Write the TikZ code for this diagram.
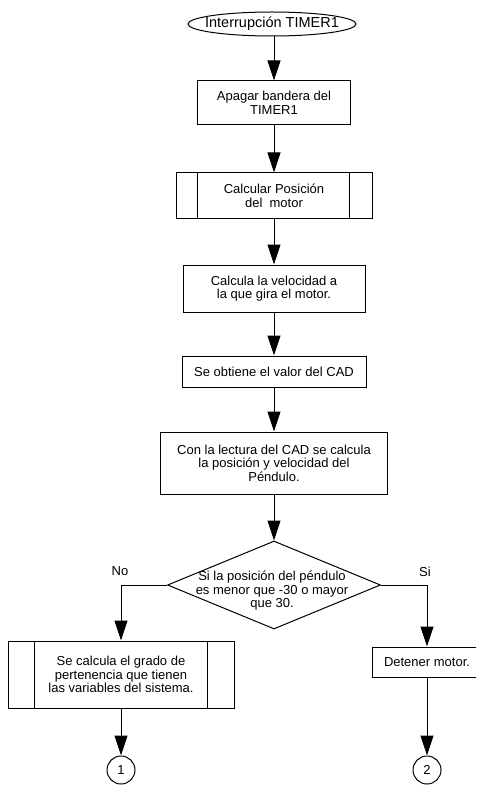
\documentclass[tikz,border=0pt]{standalone}
\usepackage{fontspec}
\setmainfont{Liberation Sans}
\usetikzlibrary{shapes.geometric,arrows.meta}
\begin{document}
\begin{tikzpicture}[x=1pt,y=-1pt,
  every node/.style={font=\fontsize{13}{13.5}\selectfont, align=center},
  box/.style={draw, rectangle, line width=1pt, inner sep=0pt},
  proc/.style={box},
  conn/.style={draw, circle, line width=1pt, minimum size=28pt, inner sep=0pt},
  flow/.style={line width=1pt, -{Triangle[width=13pt,length=20pt]}},
  lbl/.style={inner sep=0pt}
]
\useasboundingbox (0,0) rectangle (476,786);
\clip (0,0) rectangle (476,786);

% start
\node[draw, ellipse, line width=1pt, minimum width=168pt, minimum height=24pt, inner sep=0pt] (e) at (272,24) {};
\node[lbl, font=\fontsize{14.5}{15}\selectfont] (et) at (e.center) {Interrupción TIMER1};

\node[box, minimum width=153pt, minimum height=44pt] (b1) at (274,103) {Apagar bandera del\\TIMER1};

\node[proc, minimum width=196pt, minimum height=46pt] (b2) at (274,196) {Calcular Posición\\del\ \ motor};
\draw[line width=1pt] ([xshift=22pt]b2.north west) -- ([xshift=22pt]b2.south west);
\draw[line width=1pt] ([xshift=-23pt]b2.north east) -- ([xshift=-23pt]b2.south east);

\node[box, minimum width=182pt, minimum height=47pt] (b3) at (274,288.5) {Calcula la velocidad a\\ la que gira el motor.};

\node[box, minimum width=184pt, minimum height=31pt] (b4) at (274,371.5) {Se obtiene el valor del CAD};

\node[box, minimum width=227pt, minimum height=62pt] (b5) at (274,463) {Con la lectura del CAD se calcula\\la posición y velocidad del\\Péndulo.};

% decision
\node[draw, diamond, line width=1pt, minimum width=213pt, minimum height=88pt, inner sep=0pt] (d) at (274,585) {};
\node[lbl] (dt) at (272,591) {Si la posición del péndulo\\es menor que -30 o mayor\\que 30.};

\node[lbl] (no) at (120,571) {No};
\node[lbl] (si) at (425,572) {Si};

% left branch
\node[proc, minimum width=226pt, minimum height=67pt] (bl) at (121,674.5) {Se calcula el grado de\\pertenencia que tienen\\las variables del sistema.};
\draw[line width=1pt] ([xshift=27pt]bl.north west) -- ([xshift=27pt]bl.south west);
\draw[line width=1pt] ([xshift=-27pt]bl.north east) -- ([xshift=-27pt]bl.south east);

% right branch
\node[box, minimum width=110pt, minimum height=30pt] (br) at (427,662) {Detener motor.};

\node[conn] (c1) at (121,770) {1};
\node[conn] (c2) at (427,770) {2};

% connectors
\draw[flow] (e.south -| b1.north) -- (b1.north);
\draw[flow] (b1) -- (b2);
\draw[flow] (b2) -- (b3);
\draw[flow] (b3) -- (b4);
\draw[flow] (b4) -- (b5);
\draw[flow] (b5) -- (d);
\draw[flow] (d.west) -| (bl.north);
\draw[flow] (d.east) -| (br.north);
\draw[flow] (bl) -- (c1);
\draw[flow] (br) -- (c2);
\end{tikzpicture}
\end{document}
